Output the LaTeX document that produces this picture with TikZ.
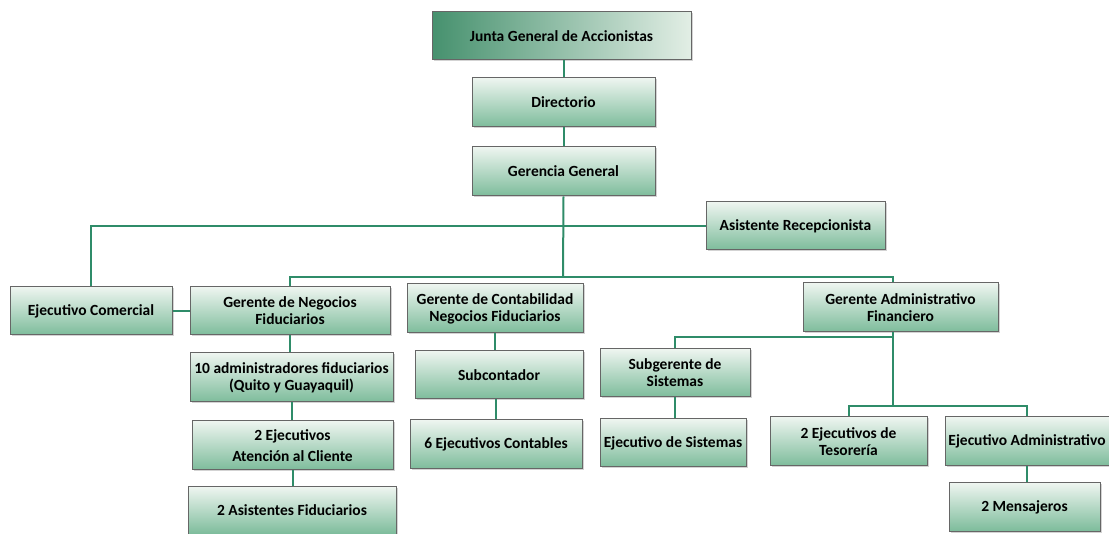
\documentclass[tikz,border=0pt]{standalone}
\usepackage{fontspec}
\setmainfont{Carlito}
\usepackage{tikz}
\usetikzlibrary{positioning, shadows, calc}
\definecolor{linegreen}{RGB}{47,140,105}
\definecolor{boxtop}{RGB}{238,245,240}
\definecolor{boxbot}{RGB}{125,188,155}
\definecolor{juntadark}{RGB}{70,145,110}
\definecolor{juntalight}{RGB}{226,238,229}
\tikzset{
  every picture/.style={line width=1.2pt},
  every node/.style={font=\fontsize{15.5}{17}\selectfont\bfseries},
  box/.style={draw=black!60, line width=1pt, top color=boxtop, bottom color=boxbot,
    align=center, inner sep=1pt, minimum height=48pt,
    drop shadow={opacity=0.35, shadow xshift=1.5pt, shadow yshift=-1.5pt}},
  topbox/.style={box, left color=juntadark, right color=juntalight},
  link/.style={draw=linegreen, line width=2pt}
}

\begin{document}
\begin{tikzpicture}[x=1pt, y=-1pt]
    \useasboundingbox (0,0) rectangle (1109,534);

    \node [topbox, minimum width=259pt] (junta) at (561.5,36) {Junta General de Accionistas};
    \node [box, minimum width=183pt, minimum height=49pt] (dir) at (563.5,102.5) {Directorio};
    \node [box, minimum width=183pt, minimum height=49pt] (gg) at (563.5,171.5) {Gerencia General};

    \node [box, minimum width=179pt] (asis) at (795.5,226) {Asistente Recepcionista};

    \node [box, minimum width=162pt] (ecom) at (91,311) {Ejecutivo Comercial};
    \node [box, minimum width=200pt] (gneg) at (290,311) {Gerente de Negocios\\Fiduciarios};
    \node [box, minimum width=176pt, minimum height=49pt] (gcont) at (495,308.5) {Gerente de Contabilidad\\Negocios Fiduciarios};
    \node [box, minimum width=195pt, minimum height=49pt] (gadm) at (900.5,307.5) {Gerente Administrativo\\Financiero};

    \node [box, minimum width=203pt, minimum height=49pt] (adm10) at (291.5,377.5) {10 administradores fiduciarios\\(Quito y Guayaquil)};
    \node [box, minimum width=201pt, minimum height=49pt] (ejat) at (292.5,445.5) {2 Ejecutivos\\[4pt]Atención al Cliente};
    \node [box, minimum width=208pt, minimum height=47pt] (asf) at (292,510.5) {2 Asistentes Fiduciarios};

    \node [box, minimum width=168pt] (subc) at (499,375) {Subcontador};
    \node [box, minimum width=172pt, minimum height=49pt] (ej6) at (496,444.5) {6 Ejecutivos Contables};

    \node [box, minimum width=150pt] (subg) at (675,373) {Subgerente de\\Sistemas};
    \node [box, minimum width=146pt] (ejsis) at (673,443) {Ejecutivo de Sistemas};

    \node [box, minimum width=157pt, minimum height=49pt] (tes) at (848.5,441.5) {2 Ejecutivos de\\Tesorería};
    \node [box, minimum width=164pt, minimum height=49pt] (eadm) at (1027,441.5) {Ejecutivo Administrativo};
    \node [box, minimum width=151pt] (mens) at (1024.5,507) {2 Mensajeros};

    \coordinate (bus) at (563,277);
    \coordinate (drop) at (893,277);
    \coordinate (sis) at (893,337);
    \coordinate (fin) at (893,406);

    \draw[link] (dir.north) -- (dir.north |- junta.south);
    \draw[link] (dir) -- (gg);
    \draw[link] (gg.south) -- (bus);
    \draw[link] (ecom.north) |- (asis.west);
    \draw[link] (gneg.north) |- (drop) -- (drop |- gadm.north);
    \draw[link] (ecom) -- (gneg);

    \draw[link] (gneg.south) -- (gneg.south |- adm10.north);
    \draw[link] (adm10.south) -- (adm10.south |- ejat.north);
    \draw[link] (ejat.south) -- (ejat.south |- asf.north);

    \draw[link] (gcont.south) -- (gcont.south |- subc.north);
    \draw[link] (ej6.north) -- (ej6.north |- subc.south);

    \draw[link] (drop |- gadm.south) -- (fin);
    \draw[link] (sis) -| (subg.north);
    \draw[link] (subg.south) -- (subg.south |- ejsis.north);
    \draw[link] (tes.north) |- (fin) -| (eadm.north);
    \draw[link] (eadm.south) -- (eadm.south |- mens.north);
  \end{tikzpicture}
\end{document}
